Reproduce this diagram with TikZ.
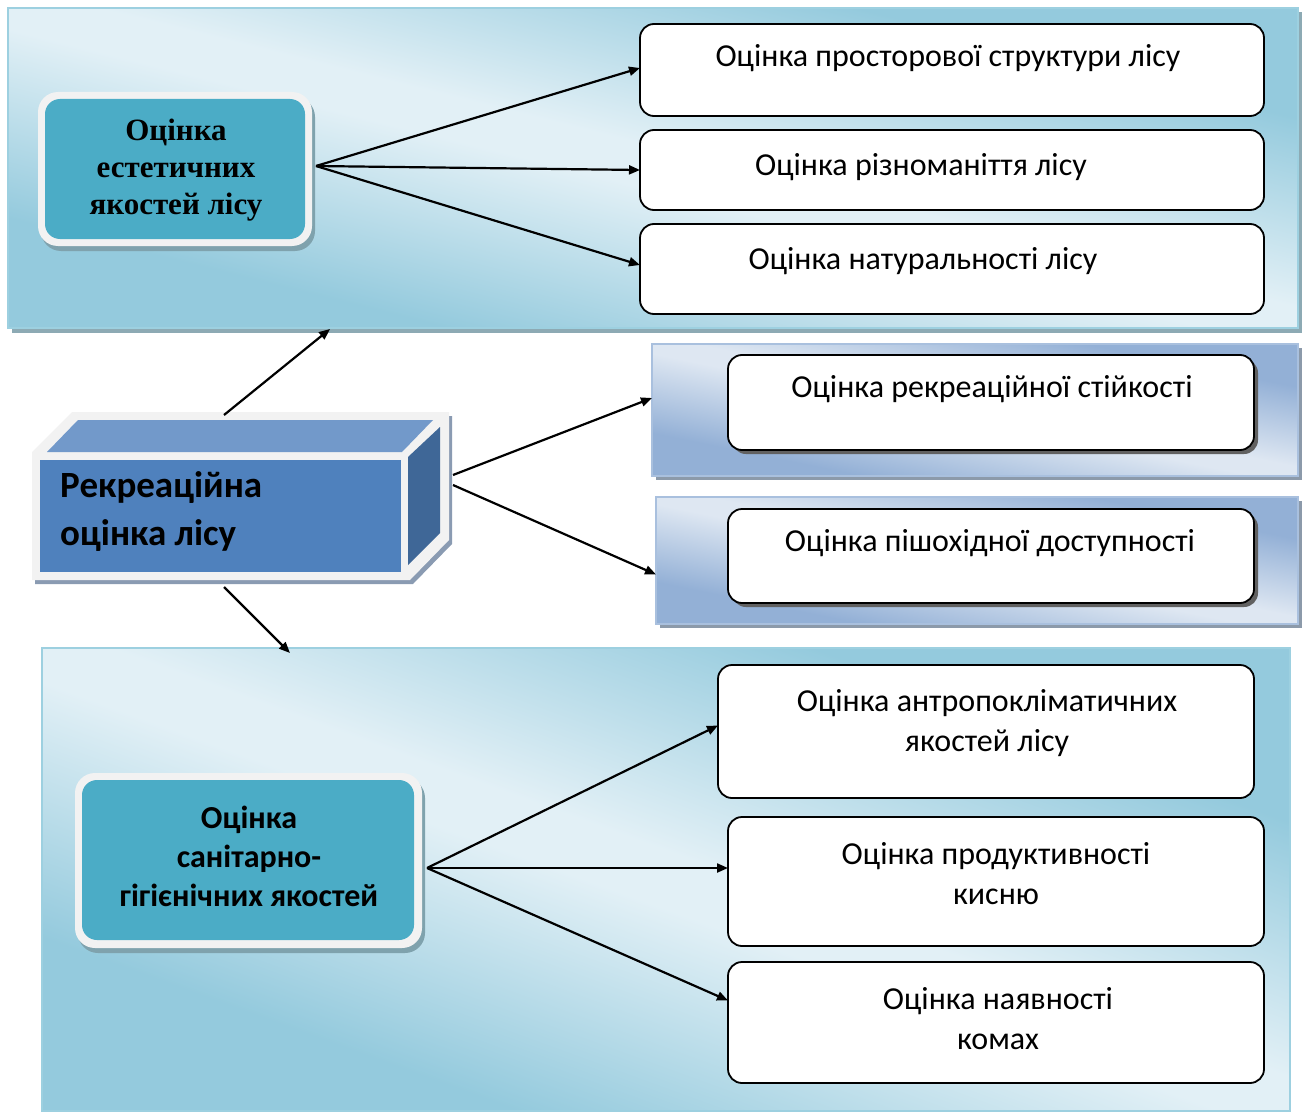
\documentclass[tikz,border=0pt]{standalone}
\usepackage{fontspec}
\setmainfont{Carlito}
\newfontfamily\serifrm{Liberation Serif}
\usetikzlibrary{arrows.meta,calc}
\definecolor{plight}{HTML}{E2F0F6}
\definecolor{pdark}{HTML}{94CADD}
\definecolor{plborder}{HTML}{9DD0E0}
\definecolor{pshadow}{HTML}{8DAAB4}
\definecolor{mlight}{HTML}{DEE7F2}
\definecolor{mdark}{HTML}{93B0D6}
\definecolor{mborder}{HTML}{A9C0DE}
\definecolor{mshadow}{HTML}{8C9AAA}
\definecolor{tealfill}{HTML}{4BACC6}
\definecolor{framefill}{HTML}{F2F2F2}
\definecolor{tshadow}{HTML}{7FA2AD}
\definecolor{cubefront}{HTML}{4F81BD}
\definecolor{cubetop}{HTML}{7299CA}
\definecolor{cubeside}{HTML}{3F6797}
\definecolor{cubeshadow}{HTML}{8A9BB2}
\pgfdeclareverticalshading{bandT}{100bp}{color(0bp)=(pdark); color(30bp)=(pdark); color(48bp)=(plight); color(52bp)=(plight); color(70bp)=(pdark); color(100bp)=(pdark)}
\pgfdeclareverticalshading{bandM}{100bp}{color(0bp)=(mdark); color(30bp)=(mdark); color(48bp)=(mlight); color(52bp)=(mlight); color(70bp)=(mdark); color(100bp)=(mdark)}
\tikzset{
  panelT/.style={shade, shading=bandT, shading angle=#1, draw=plborder, line width=1.5pt, inner sep=0pt, outer sep=0pt},
  panelM/.style={shade, shading=bandM, shading angle=#1, draw=mborder, line width=1.2pt, inner sep=0pt, outer sep=0pt},
  wbox/.style={draw=black, fill=white, line width=1.8pt, rounded corners=14pt, inner sep=0pt, outer sep=0pt},
  tframe/.style={fill=framefill, rounded corners=20pt, inner sep=0pt, outer sep=0pt},
  tinner/.style={fill=tealfill, rounded corners=15pt, inner sep=0pt, outer sep=0pt},
  txt/.style={font=\fontsize{32}{40}\selectfont, align=center, inner sep=0pt},
  arr/.style={draw=black, line width=2.2pt, -{Triangle[length=11pt,width=9pt]}},
}
\begin{document}
\begin{tikzpicture}[x=1pt,y=-1pt]
\useasboundingbox (0,0) rectangle (1304,1113);
% ---------- panels ----------
\fill[pshadow] (12,12) rectangle (1302,333);
\node[panelT=-14, minimum width=1290pt, minimum height=320pt] (toppanel) at (653,168) {};
\fill[mshadow] (656,348) rectangle (1302,480);
\node[panelM=-11.5, minimum width=646pt, minimum height=132pt] (midA) at (975,410) {};
\fill[mshadow] (660,501) rectangle (1302,628);
\node[panelM=-11.5, minimum width=642pt, minimum height=127pt] (midB) at (977,560.5) {};
\node[panelT=-20, minimum width=1248pt, minimum height=463pt] (botpanel) at (666,879.5) {};
% ---------- top group ----------
\fill[tshadow, rounded corners=20pt] (41,97) rectangle (315,251);
\node[tframe, minimum width=274pt, minimum height=154pt] (aesframe) at (175,169) {};
\node[tinner, minimum width=260pt, minimum height=140pt] (aes) at (175,169) {};
\node[font=\serifrm\bfseries\fontsize{31}{37}\selectfont, align=center, inner sep=0pt] (aestxt) at (176,170) {Оцінка\\естетичних\\якостей лісу};
\node[wbox, minimum width=624pt, minimum height=92pt] (b1) at (952,70) {};
\node[wbox, minimum width=624pt, minimum height=80pt] (b2) at (952,170) {};
\node[wbox, minimum width=624pt, minimum height=90pt] (b3) at (952,269) {};
\node[txt] (t1) at (948,58) {Оцінка просторової структури лісу};
\node[txt] (t2) at (921,167) {Оцінка різноманіття лісу};
\node[txt] (t3) at (923,261) {Оцінка натуральності лісу};
\coordinate (aesout) at (316,166);
\draw[arr] (aesout) -- ([yshift=2pt]b1.west);
\draw[arr] (aesout) -- (b2.west);
\draw[arr] (aesout) -- ([yshift=4pt]b3.west);
% ---------- middle boxes ----------
\fill[black!62, rounded corners=14pt] (732,359) rectangle (1258,454);
\node[wbox, minimum width=526pt, minimum height=95pt] (b4) at (991,402.5) {};
\fill[black!62, rounded corners=14pt] (732,513) rectangle (1258,607);
\node[wbox, minimum width=526pt, minimum height=94pt] (b5) at (991,556) {};
\node[txt] (t4) at (992,389) {Оцінка рекреаційної стійкості};
\node[txt] (t5) at (990,543) {Оцінка пішохідної доступності};
% ---------- cube ----------
\fill[cubeshadow] (35,456) -- (75,416) -- (452,416) -- (452,544) -- (413,584) -- (35,584) -- cycle;
\fill[framefill] (32,452) -- (72,412) -- (449,412) -- (449,540) -- (410,580) -- (32,580) -- cycle;
\fill[cubefront] (40,460) rectangle (401,572);
\fill[cubetop] (47,452) -- (78,420) -- (433,420) -- (402,452) -- cycle;
\fill[cubeside] (408,457) -- (440,427) -- (440,533) -- (408,565) -- cycle;
\node[font=\bfseries\fontsize{37}{48}\selectfont, align=left, anchor=west, inner sep=0pt] (rec) at (60,511) {Рекреаційна\\оцінка лісу};
\coordinate (cubeN) at (224,415);
\coordinate (cubeS) at (224,587);
\coordinate (cubeE1) at (453,475);
\coordinate (cubeE2) at (453,485);
\coordinate (topin) at (330,329);
\coordinate (botin) at (290,653);
\draw[arr] (cubeN) -- (topin);
\draw[arr] (cubeS) -- (botin);
\draw[arr] (cubeE1) -- ([yshift=12pt]midA.west);
\draw[arr] (cubeE2) -- ([yshift=-14pt]midB.west);
% ---------- bottom group ----------
\fill[tshadow, rounded corners=20pt] (78,778) rectangle (425,953);
\node[tframe, minimum width=347pt, minimum height=175pt] (sanframe) at (248.5,860.5) {};
\node[tinner, minimum width=332pt, minimum height=160pt] (san) at (248,860) {};
\node[font=\bfseries\fontsize{32}{39}\selectfont, align=center, inner sep=0pt] (santxt) at (249,856) {Оцінка\\санітарно-\\гігієнічних якостей};
\node[wbox, minimum width=536pt, minimum height=133pt] (b6) at (986,731.5) {};
\node[wbox, minimum width=536pt, minimum height=129pt] (b7) at (996,881.5) {};
\node[wbox, minimum width=536pt, minimum height=121pt] (b8) at (996,1022.5) {};
\node[txt] (t6) at (987,723) {Оцінка антропокліматичних\\якостей лісу};
\node[txt] (t7) at (996,874) {Оцінка продуктивності\\кисню};
\node[txt] (t8) at (998,1019) {Оцінка наявності\\комах};
\coordinate (sanout) at (427,868);
\draw[arr] (sanout) -- ([yshift=6pt]b6.west);
\draw[arr] (sanout) -- (b7.west |- sanout);
\draw[arr] (sanout) -- ([yshift=22pt]b8.west);
\end{tikzpicture}
\end{document}
